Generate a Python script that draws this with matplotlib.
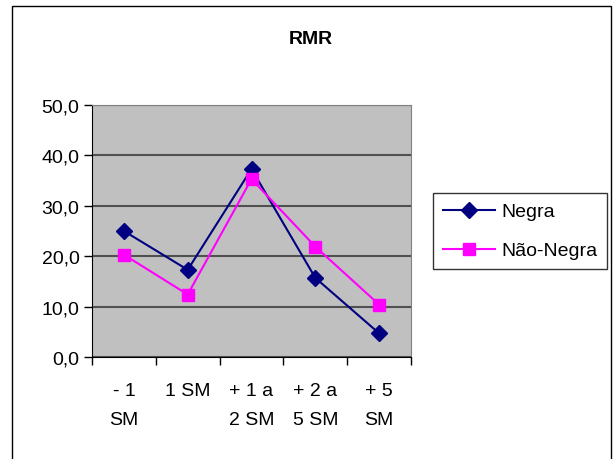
import matplotlib
matplotlib.use('Agg')
import matplotlib.pyplot as plt
from matplotlib.patches import Rectangle

plt.rcParams['font.family'] = ['Liberation Sans', 'DejaVu Sans']

categorias = ['- 1\nSM', '1 SM', '+ 1 a\n2 SM', '+ 2 a\n5 SM', '+ 5\nSM']
negra = [25.0, 17.3, 37.3, 15.7, 4.7]
nao_negra = [20.3, 12.4, 35.3, 21.9, 10.4]
yticks = [0, 10, 20, 30, 40, 50]

fig = plt.figure(figsize=(6.14, 4.6), dpi=100)
# moldura do gráfico
fig.patches.append(Rectangle((12 / 614, -0.1), 599 / 614, 1 - 7 / 460 + 0.1,
                             transform=fig.transFigure, fill=False,
                             edgecolor='black', linewidth=1))

ax = fig.add_axes([92 / 614, 1 - 358 / 460, 319 / 614, 252 / 460])
ax.set_facecolor('#C0C0C0')

x = list(range(len(categorias)))
ax.plot(x, negra, color='#000080', marker='D', markersize=8.5, linewidth=1.5,
        label='Negra', zorder=3)
ax.plot(x, nao_negra, color='#FF00FF', marker='s', markersize=8.5, linewidth=1.5,
        label='Não-Negra', zorder=3)

ax.set_xlim(-0.5, len(categorias) - 0.5)
ax.set_ylim(0, 50)
ax.set_yticks(yticks)
ax.set_yticklabels([('%.1f' % v).replace('.', ',') for v in yticks], fontsize=14)
ax.yaxis.grid(True, color='#505050', linewidth=1.5)
ax.set_axisbelow(True)

# ticks nos limites das categorias (estilo Excel)
ax.set_xticks([i - 0.5 for i in range(len(categorias) + 1)])
ax.set_xticklabels([])
ax.set_xticks(x, minor=True)
ax.set_xticklabels(categorias, minor=True, fontsize=14, linespacing=1.9,
                   va='top')
ax.tick_params(axis='x', which='minor', length=0, pad=18)
ax.tick_params(axis='both', which='major', length=6, width=1, color='black',
               direction='out')
ax.tick_params(axis='y', pad=3)

for s in ['top', 'right']:
    ax.spines[s].set_color('#808080')
for s in ['left', 'bottom']:
    ax.spines[s].set_color('black')

fig.text(311 / 614, 1 - 39 / 460, 'RMR', fontsize=14, fontweight='bold',
         ha='center', va='center')

leg = fig.legend(loc='upper left', bbox_to_anchor=(433 / 614, 1 - 194 / 460),
                 fontsize=14, frameon=True, fancybox=False, edgecolor='black',
                 handlelength=2.7, borderpad=0.5, labelspacing=1.1,
                 handletextpad=0.3, borderaxespad=0)
leg.get_frame().set_linewidth(1)

fig.savefig('out.png', dpi=100)
